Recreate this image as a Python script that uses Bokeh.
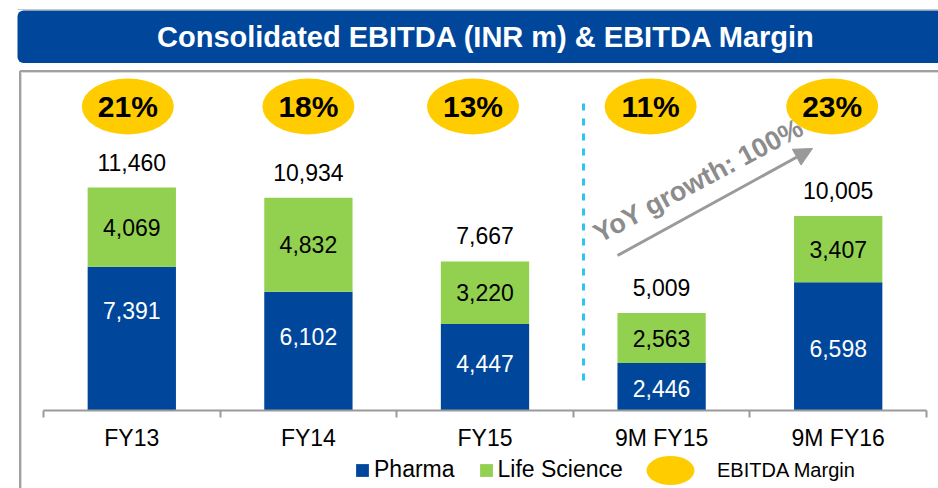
from bokeh.plotting import figure
from bokeh.models import (ColumnDataSource, Range1d, LinearAxis, FixedTicker, Legend,
                          LegendItem, BoxAnnotation, Label, Arrow, NormalHead)
from bokeh.core.properties import value
from bokeh.embed import file_html
from bokeh.resources import INLINE

# ---------------- data ----------------
categories = ["FY13", "FY14", "FY15", "9M FY15", "9M FY16"]
pharma = [7391, 6102, 4447, 2446, 6598]
life_science = [4069, 4832, 3220, 2563, 3407]
totals = [11460, 10934, 7667, 5009, 10005]
ebitda_margin = [21, 18, 13, 11, 23]
title_text = "Consolidated EBITDA (INR m) & EBITDA Margin"
growth_text = "YoY growth: 100%"

# ---------------- layout helpers (page pixels -> data) ----------------
W, H = 938, 488
CAT_PX = 176.6          # pixels per category
Y_PX = 0.01945          # pixels per INR m
AXIS_PX = 410           # pixel row of the zero line
X0 = -0.5 - 43 / CAT_PX
Y1 = AXIS_PX / Y_PX


def px2x(px):
    return X0 + px / CAT_PX


def px2y(py):
    return Y1 - py / Y_PX


BLUE = "#00479C"
GREEN = "#92D050"
YELLOW = "#FFCC00"
GRAY = "#9A9A9A"
FONT = "Liberation Sans"

p = figure(width=W, height=H, x_range=Range1d(X0, X0 + W / CAT_PX),
           y_range=Range1d(Y1 - H / Y_PX, Y1), output_backend="svg",
           toolbar_location=None, x_axis_location=None, y_axis_location=None,
           min_border=0, outline_line_color=None,
           background_fill_color="white", border_fill_color="white")
p.grid.visible = False

xs = list(range(len(categories)))

# ---------------- axis ----------------
xaxis = LinearAxis(
    ticker=FixedTicker(ticks=xs, minor_ticks=[i - 0.5 for i in range(len(categories) + 1)]),
    major_label_overrides={i: c for i, c in enumerate(categories)},
    fixed_location=0, bounds=(-0.5, len(categories) - 0.5),
    axis_line_color=GRAY, axis_line_width=2,
    major_tick_line_color=None, major_tick_in=0, major_tick_out=0,
    minor_tick_in=0, minor_tick_out=7, minor_tick_line_color=GRAY,
    minor_tick_line_width=2,
    major_label_text_font=FONT, major_label_text_font_size="23px",
    major_label_text_color="black", major_label_standoff=7)
p.add_layout(xaxis, "below")

# ---------------- bars ----------------
src = ColumnDataSource(dict(x=xs, pharma=pharma, life=life_science))
rs = p.vbar_stack(["pharma", "life"], x="x", width=0.5, source=src,
                  fill_color=[BLUE, GREEN], line_color=None)

# ---------------- value labels ----------------
pharma_label_nudge = [-28, -15, -4, 2, 2]
p.text(x=xs, y=[v / 2 for v in pharma], text=[f"{v:,}" for v in pharma],
       y_offset=pharma_label_nudge, text_align="center", text_baseline="middle",
       text_font=value(FONT), text_font_size="23px", text_color="white")
p.text(x=xs, y=[a + b / 2 for a, b in zip(pharma, life_science)],
       text=[f"{v:,}" for v in life_science], text_align="center",
       text_baseline="middle", text_font=value(FONT), text_font_size="23px",
       text_color="black")
p.text(x=xs, y=totals, text=[f"{v:,}" for v in totals], y_offset=-25.5,
       text_align="center", text_baseline="middle", text_font=value(FONT),
       text_font_size="23px", text_color="black")

# ---------------- margin ellipses ----------------
ell_y = px2y(106)
ellipse_nudge_px = [-4, 0, -12, -11, -6]
ell_x = [x + d / CAT_PX for x, d in zip(xs, ellipse_nudge_px)]
r_ell = p.ellipse(x=ell_x, y=[ell_y] * len(xs), width=92, height=56,
                  width_units="screen", height_units="screen",
                  fill_color=YELLOW, line_color=None)
p.text(x=ell_x, y=[ell_y] * len(xs), text=[f"{m}%" for m in ebitda_margin],
       text_align="center", text_baseline="middle", text_font=value(FONT),
       text_font_style="bold", text_font_size="30px", text_color="black")

# ---------------- dashed divider & growth arrow ----------------
p.segment(x0=[px2x(583)], y0=[px2y(103)], x1=[px2x(583)], y1=[px2y(386)],
          line_color="#2EC4F2", line_width=3, line_dash="7 8")
p.add_layout(Arrow(end=NormalHead(size=18, fill_color=GRAY, line_color=GRAY),
                   x_start=px2x(617), y_start=px2y(255), x_end=px2x(812), y_end=px2y(148),
                   line_color=GRAY, line_width=3))
p.add_layout(Label(x=px2x(698), y=px2y(180), text=growth_text, angle=28,
                   angle_units="deg", text_align="center", text_baseline="middle",
                   text_font=FONT, text_font_style="bold", text_font_size="27px",
                   text_color="#8C8C8C"))

# ---------------- title bar & frame ----------------
p.segment(x0=[px2x(17)], y0=[px2y(9)], x1=[px2x(960)], y1=[px2y(9)],
          line_color="#C8C8C8", line_width=1)
p.add_layout(BoxAnnotation(left=px2x(17), right=px2x(990), top=px2y(10), bottom=px2y(62.5),
                           fill_color=BLUE, fill_alpha=1, line_color=None,
                           border_radius=(6, 0, 0, 6)))
p.add_layout(Label(x=px2x(486), y=px2y(36.5), text=title_text, text_align="center",
                   text_baseline="middle", text_font=FONT, text_font_style="bold",
                   text_font_size="29px", text_color="white"))
# frame: top and left borders (the rest runs off the picture)
p.segment(x0=[px2x(19.5), px2x(19.5)], y0=[px2y(70.5), px2y(70.5)],
          x1=[px2x(990), px2x(19.5)], y1=[px2y(70.5), px2y(600)],
          line_color="#A0A0A0", line_width=2)
p.segment(x0=[px2x(21), px2x(21)], y0=[px2y(72), px2y(72)],
          x1=[px2x(990), px2x(21)], y1=[px2y(72), px2y(600)],
          line_color="#DADADA", line_width=1)

# ---------------- legends ----------------
leg_a = Legend(items=[LegendItem(label="Pharma", renderers=[rs[0]]),
                      LegendItem(label="Life Science", renderers=[rs[1]])],
               orientation="horizontal", location=(354, 5), glyph_width=16,
               glyph_height=16, label_standoff=4, spacing=23, padding=0, margin=0,
               border_line_color=None, background_fill_alpha=0,
               label_text_font=FONT, label_text_font_size="23px",
               label_text_color="black")
p.add_layout(leg_a)
leg_b = Legend(items=[LegendItem(label="EBITDA Margin", renderers=[r_ell], index=0)],
               location=(640, -12), glyph_width=60, glyph_height=60,
               label_standoff=17, padding=0, margin=0, border_line_color=None,
               background_fill_alpha=0, label_text_font=FONT,
               label_text_font_size="20px", label_text_color="black")
p.add_layout(leg_b)

open("out.html", "w").write(file_html(p, INLINE))
